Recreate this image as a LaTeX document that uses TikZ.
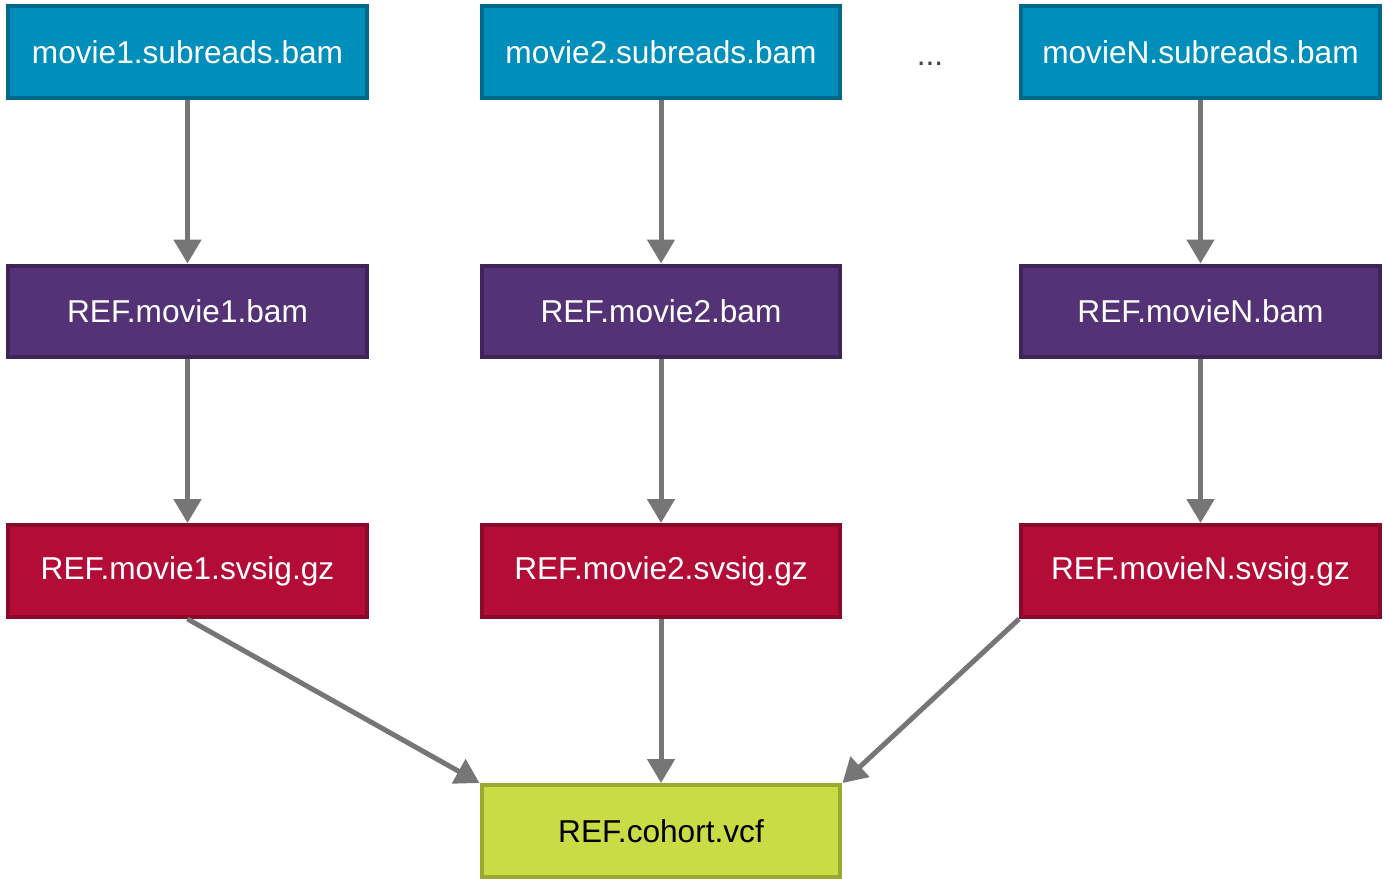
\documentclass[tikz,border=0pt]{standalone}
\usepackage{fontspec}
\setmainfont{Liberation Sans}
\usetikzlibrary{arrows.meta}
\definecolor{bamfill}{RGB}{0,143,187}
\definecolor{bamdraw}{RGB}{0,104,138}
\definecolor{alnfill}{RGB}{84,50,118}
\definecolor{alndraw}{RGB}{62,36,88}
\definecolor{sigfill}{RGB}{179,12,55}
\definecolor{sigdraw}{RGB}{138,10,43}
\definecolor{vcffill}{RGB}{201,219,69}
\definecolor{vcfdraw}{RGB}{154,170,46}
\definecolor{arrowgray}{RGB}{118,118,118}

\begin{document}
\begin{tikzpicture}[
  x=0.02cm, y=-0.02cm,
  every node/.style={font=\fontsize{18}{20}\selectfont},
  file/.style={rectangle, line width=0.08cm, minimum width=7.18cm, minimum height=1.84cm, text=white},
  subreads/.style={file, draw=bamdraw, fill=bamfill},
  aligned/.style={file, draw=alndraw, fill=alnfill},
  svsig/.style={file, draw=sigdraw, fill=sigfill},
  cohort/.style={file, draw=vcfdraw, fill=vcffill, text=black},
  flow/.style={-{Triangle[length=0.48cm,width=0.54cm]}, line width=0.1cm, color=arrowgray}
]
  \useasboundingbox (0,0) rectangle (1384,879);

  \node[subreads] (s1) at (187.5,52)  {movie1.subreads.bam};
  \node[subreads] (s2) at (661,52)    {movie2.subreads.bam};
  \node[subreads] (sN) at (1200.5,52) {movieN.subreads.bam};
  \node[text=black!75] (dots) at (930,64) {...};

  \node[aligned] (a1) at (187.5,311.5)  {REF.movie1.bam};
  \node[aligned] (a2) at (661,311.5)    {REF.movie2.bam};
  \node[aligned] (aN) at (1200.5,311.5) {REF.movieN.bam};

  \node[svsig] (g1) at (187.5,571)  {REF.movie1.svsig.gz};
  \node[svsig] (g2) at (661,571)    {REF.movie2.svsig.gz};
  \node[svsig] (gN) at (1200.5,571) {REF.movieN.svsig.gz};

  \node[cohort] (vcf) at (661,831) {REF.cohort.vcf};

  \foreach \n in {1,2,N} {
    \draw[flow] (s\n.south) -- (a\n.north);
    \draw[flow] (a\n.south) -- (g\n.north);
  }
  \draw[flow] (g1.south) -- (vcf.north west);
  \draw[flow] (g2.south) -- (vcf.north);
  \draw[flow] (gN.south west) -- (vcf.north east);
\end{tikzpicture}
\end{document}
